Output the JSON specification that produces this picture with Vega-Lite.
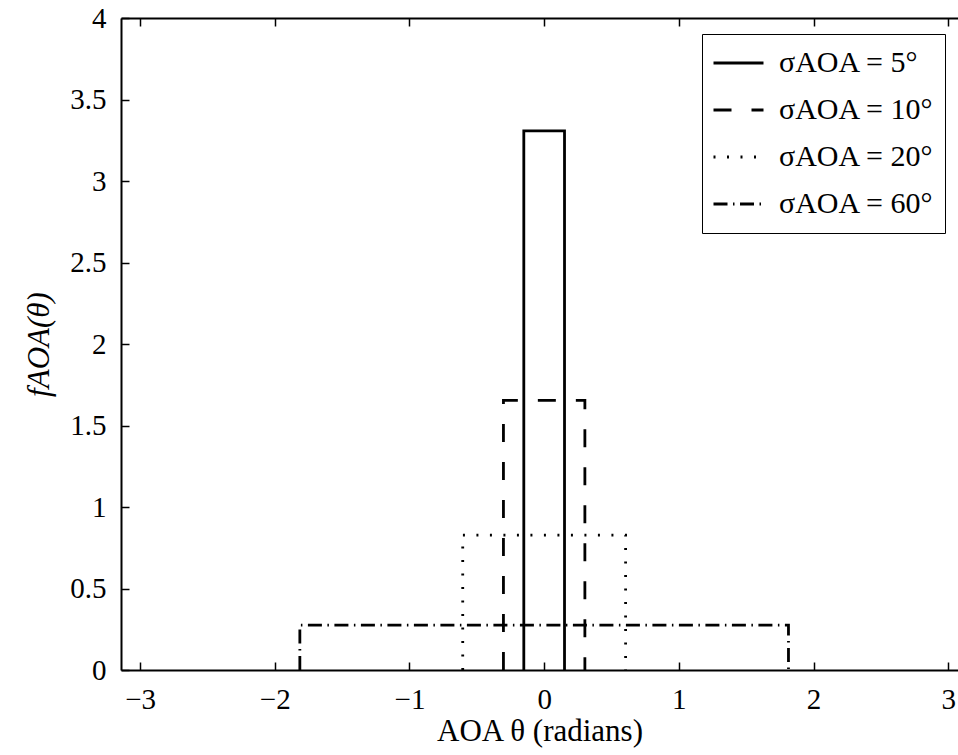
{
  "$schema": "https://vega.github.io/schema/vega-lite/v6.json",
  "autosize": {"type": "none"},
  "padding": {"left": 121, "top": 18, "right": 0, "bottom": 85},
  "width": 837,
  "height": 652,
  "background": "white",
  "config": {
    "view": {"stroke": null},
    "font": "Liberation Serif",
    "axis": {
      "domainColor": "black",
      "domainWidth": 2,
      "tickColor": "black",
      "tickWidth": 1.5,
      "grid": false,
      "labelFont": "Liberation Serif",
      "labelFontSize": 29,
      "labelColor": "black",
      "titleFont": "Liberation Serif",
      "titleFontSize": 31,
      "titleFontWeight": "normal",
      "titleColor": "black"
    }
  },
  "data": {
    "values": [
      {"series": "σAOA = 5°", "ord": 1, "x": -0.1511, "y": 0},
      {"series": "σAOA = 5°", "ord": 2, "x": -0.1511, "y": 3.308},
      {"series": "σAOA = 5°", "ord": 3, "x": 0.1511, "y": 3.308},
      {"series": "σAOA = 5°", "ord": 4, "x": 0.1511, "y": 0},
      {"series": "σAOA = 10°", "ord": 1, "x": -0.3023, "y": 0},
      {"series": "σAOA = 10°", "ord": 2, "x": -0.3023, "y": 1.654},
      {"series": "σAOA = 10°", "ord": 3, "x": 0.3023, "y": 1.654},
      {"series": "σAOA = 10°", "ord": 4, "x": 0.3023, "y": 0},
      {"series": "σAOA = 20°", "ord": 1, "x": -0.6046, "y": 0},
      {"series": "σAOA = 20°", "ord": 2, "x": -0.6046, "y": 0.827},
      {"series": "σAOA = 20°", "ord": 3, "x": 0.6046, "y": 0.827},
      {"series": "σAOA = 20°", "ord": 4, "x": 0.6046, "y": 0},
      {"series": "σAOA = 60°", "ord": 1, "x": -1.8138, "y": 0},
      {"series": "σAOA = 60°", "ord": 2, "x": -1.8138, "y": 0.2757},
      {"series": "σAOA = 60°", "ord": 3, "x": 1.8138, "y": 0.2757},
      {"series": "σAOA = 60°", "ord": 4, "x": 1.8138, "y": 0}
    ]
  },
  "layer": [
    {
      "mark": {"type": "line", "color": "black", "strokeWidth": 2.8, "clip": true, "strokeCap": "butt"},
      "encoding": {
        "x": {
          "field": "x", "type": "quantitative",
          "scale": {"domain": [-3.1416, 3.0724], "nice": false, "zero": false},
          "axis": {
            "values": [-3, -2, -1, 0, 1, 2, 3],
            "format": "~g",
            "tickSize": -8,
            "labelPadding": 23,
            "title": "AOA θ (radians)",
            "titlePadding": 2
          }
        },
        "y": {
          "field": "y", "type": "quantitative",
          "scale": {"domain": [0, 4], "nice": false},
          "axis": {
            "values": [0, 0.5, 1, 1.5, 2, 2.5, 3, 3.5, 4],
            "format": "~g",
            "tickSize": -8,
            "labelPadding": 23,
            "title": "fAOA(θ)",
            "titleFontStyle": "italic",
            "titlePadding": 14
          }
        },
        "order": {"field": "ord", "type": "quantitative"},
        "strokeDash": {
          "field": "series", "type": "nominal",
          "scale": {
            "domain": ["σAOA = 5°", "σAOA = 10°", "σAOA = 20°", "σAOA = 60°"],
            "range": [[1, 0], [18, 20], [2, 11.5], [14, 5.5, 1.5, 5.5]]
          },
          "legend": {
            "title": null,
            "orient": "none",
            "legendX": 581,
            "legendY": 16,
            "padding": 10,
            "strokeColor": "black",
            "fillColor": "white",
            "symbolType": "stroke",
            "symbolSize": 2500,
            "symbolStrokeWidth": 2.8,
            "symbolStrokeColor": "black",
            "labelFont": "Liberation Serif",
            "labelFontSize": 30,
            "labelColor": "black",
            "labelOffset": 14,
            "labelLimit": 400,
            "clipHeight": 38,
            "rowPadding": 9
          }
        }
      }
    },
    {
      "mark": {"type": "rule", "color": "black", "strokeWidth": 0},
      "encoding": {
        "x": {
          "field": "x", "type": "quantitative",
          "axis": {
            "orient": "top",
            "values": [-3, -2, -1, 0, 1, 2, 3],
            "labels": false,
            "tickSize": -8,
            "title": null
          }
        }
      }
    }
  ],
  "resolve": {"axis": {"x": "independent"}}
}
